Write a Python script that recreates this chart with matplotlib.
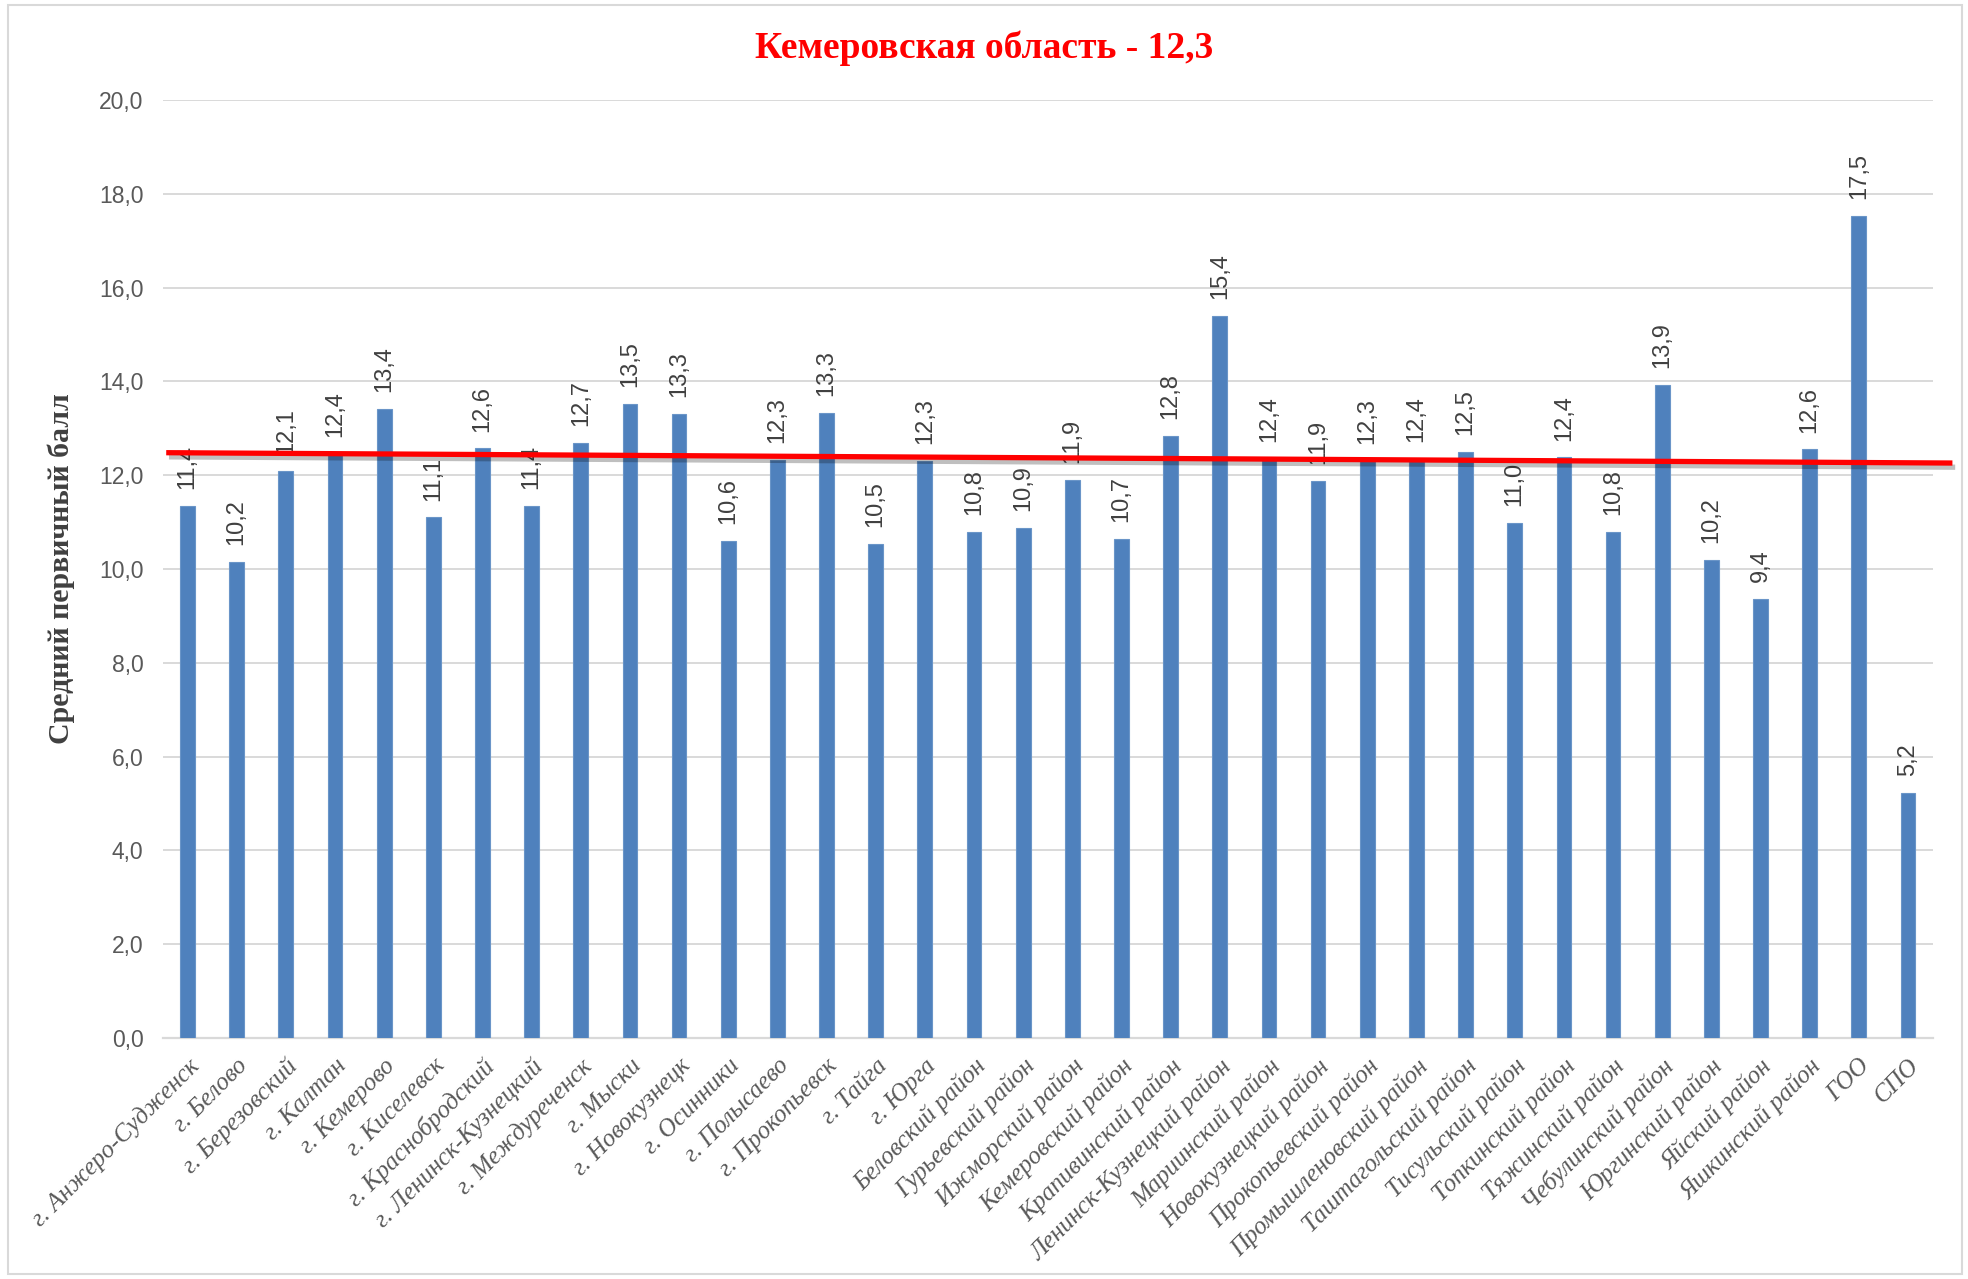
import matplotlib.pyplot as plt
import matplotlib.patheffects as pe
import numpy as np

labels = ["г. Анжеро-Судженск", "г. Белово", "г. Березовский", "г. Калтан", "г. Кемерово",
          "г. Киселевск", "г. Краснобродский", "г. Ленинск-Кузнецкий", "г. Междуреченск",
          "г. Мыски", "г. Новокузнецк", "г. Осинники", "г. Полысаево", "г. Прокопьевск",
          "г. Тайга", "г. Юрга", "Беловский район", "Гурьевский район", "Ижморский район",
          "Кемеровский район", "Крапивинский район", "Ленинск-Кузнецкий район",
          "Мариинский район", "Новокузнецкий район", "Прокопьевский район",
          "Промышленовский район", "Таштагольский район", "Тисульский район",
          "Топкинский район", "Тяжинский район", "Чебулинский район", "Юргинский район",
          "Яйский район", "Яшкинский район", "ГОО", "СПО"]
values = [11.35, 10.15, 12.1, 12.45, 13.42, 11.1, 12.57, 11.35, 12.68, 13.52, 13.3, 10.6,
          12.32, 13.33, 10.53, 12.3, 10.8, 10.87, 11.9, 10.65, 12.83, 15.4, 12.35, 11.88,
          12.3, 12.35, 12.5, 10.98, 12.38, 10.8, 13.93, 10.2, 9.37, 12.55, 17.53, 5.22]
shown = ["11,4", "10,2", "12,1", "12,4", "13,4", "11,1", "12,6", "11,4", "12,7", "13,5", "13,3",
         "10,6", "12,3", "13,3", "10,5", "12,3", "10,8", "10,9", "11,9", "10,7", "12,8", "15,4",
         "12,4", "11,9", "12,3", "12,4", "12,5", "11,0", "12,4", "10,8", "13,9", "10,2", "9,4",
         "12,6", "17,5", "5,2"]
region_avg = "12,3"
# hand-drawn red line: value at its left and right ends
line_ends = [12.48, 12.26]

fig = plt.figure(figsize=(19.68, 12.79), dpi=100)
ax = fig.add_axes([0.0828, 0.1884, 0.8992, 0.7334])

x = np.arange(len(values))
ax.bar(x, values, width=0.3, color="#4f81bd", edgecolor="#6a95c8", linewidth=0.8, zorder=3)
for xi, v, s in zip(x, values, shown):
    ax.text(xi, v + 0.36, s, rotation=90, ha="center", va="bottom",
            fontsize=17, color="#404040", family="Liberation Sans", zorder=4)

ax.set_xlim(-0.5, len(values) - 0.5)
ax.set_ylim(0, 20)
ax.set_yticks(np.arange(0, 20.1, 2))
ax.set_yticklabels([f"{t:.1f}".replace(".", ",") for t in np.arange(0, 20.1, 2)],
                   fontsize=16.5, color="#595959", family="Liberation Sans")
ax.yaxis.grid(True, color="#d9d9d9", linewidth=1.4, zorder=0)
ax.set_axisbelow(True)
for sp in ["top", "right", "left"]:
    ax.spines[sp].set_visible(False)
ax.spines["bottom"].set_color("#d9d9d9")
ax.spines["bottom"].set_linewidth(1.6)
ax.tick_params(length=0)
ax.tick_params(axis="y", pad=14)

ax.set_xticks(x)
ax.set_xticklabels(labels, rotation=45, ha="right", rotation_mode="anchor",
                   fontsize=18, style="italic", family="Liberation Serif", color="#595959")
ax.tick_params(axis="x", pad=12)

ax.set_ylabel("Средний первичный балл", fontsize=21.5, fontweight="bold",
              family="Liberation Serif", color="#404040", labelpad=17)

ax.plot([-0.38, 35.85], line_ends, color="#ff0000", linewidth=3.8, clip_on=False, zorder=5,
        path_effects=[pe.SimpleLineShadow(offset=(2, -3), alpha=0.25), pe.Normal()])

fig.text(0.5, 0.962, "Кемеровская область - " + region_avg, ha="center", va="center",
         fontsize=27, fontweight="bold", family="Liberation Serif", color="#ff0000")

# chart border
fig.patches.append(plt.Rectangle((0.004, 0.004), 0.993, 0.992, transform=fig.transFigure,
                                 fill=False, edgecolor="#d9d9d9", linewidth=1.5))

fig.savefig("out.png", dpi=100)
